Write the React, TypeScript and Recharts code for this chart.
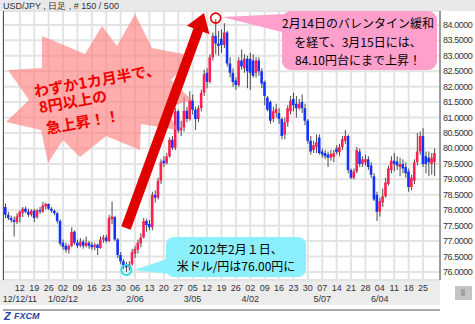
import { ComposedChart, Bar, Cell, XAxis, YAxis, CartesianGrid, ReferenceDot } from 'recharts';

// week starts (Mondays) shown on the axis, 5 daily bars per week
const weeks = [
  '12/05', '12/12', '12/19', '12/26', '01/02', '01/09', '01/16', '01/23', '01/30', '02/06',
  '02/13', '02/20', '02/27', '03/05', '03/12', '03/19', '03/26', '04/02', '04/09', '04/16',
  '04/23', '04/30', '05/07', '05/14', '05/21', '05/28', '06/04', '06/11', '06/18', '06/25'
];

const monthLabels: Record<string, string> = {
  '12/12': '12/12/11',
  '01/02': '1/02/12',
  '02/06': '2/06',
  '03/05': '3/05',
  '04/02': '4/02',
  '05/07': '5/07',
  '06/04': '6/04'
};

const yTicks = [76, 76.5, 77, 77.5, 78, 78.5, 79, 79.5, 80, 80.5, 81, 81.5, 82, 82.5, 83, 83.5, 84];

// USD/JPY daily, 2011/12/05 - 2012/06/29
const opens = [
  78.10, 77.85, 77.75, 77.68, 77.62, 77.78, 77.92, 78.05, 77.95, 77.85,
  77.98, 77.78, 78.00, 77.95, 78.12, 78.20, 78.05, 77.98, 77.90, 77.65,
  76.95, 76.85, 76.72, 76.85, 77.30, 76.95, 76.85, 76.98, 76.85, 76.95,
  76.88, 76.80, 76.88, 76.78, 77.05, 77.12, 77.00, 77.70, 77.78, 77.05,
  76.55, 76.35, 76.22, 76.15, 76.25, 76.60, 76.72, 76.92, 77.12, 77.65,
  77.55, 77.45, 78.50, 78.40, 78.95, 79.60, 79.52, 79.75, 80.28, 80.02,
  81.20, 80.58, 80.68, 81.22, 80.95, 81.55, 81.25, 80.95, 81.30, 81.80,
  82.45, 82.15, 82.95, 83.65, 83.40, 83.55, 83.35, 83.75, 82.75, 82.45,
  82.20, 82.05, 82.85, 82.60, 82.90, 82.90, 82.85, 82.45, 82.85, 82.50,
  82.15, 81.65, 81.50, 80.95, 81.15, 81.15, 80.95, 80.45, 80.85, 81.20,
  81.60, 81.45, 81.30, 81.50, 81.30, 80.90, 80.25, 79.95, 80.05, 80.35,
  79.90, 79.85, 79.80, 79.70, 79.72, 80.00, 79.88, 80.05, 80.25, 80.40,
  79.30, 79.05, 79.25, 79.90, 79.50, 79.55, 79.65, 79.45, 79.10, 78.50,
  77.95, 78.25, 78.45, 78.85, 79.30, 79.60, 79.58, 79.40, 79.50, 79.40,
  79.25, 78.75, 78.95, 79.55, 79.90, 80.40, 79.75, 79.70, 79.50, 79.55
];
const highs = [
  78.22, 77.95, 77.82, 77.80, 77.90, 78.00, 78.10, 78.12, 78.05, 78.02,
  78.05, 78.05, 78.10, 78.27, 78.25, 78.22, 78.10, 78.02, 77.95, 77.70,
  77.05, 76.95, 76.90, 77.45, 77.35, 77.05, 77.10, 77.05, 77.15, 77.00,
  76.98, 76.95, 76.92, 77.15, 77.20, 77.20, 77.85, 78.28, 77.82, 77.10,
  76.65, 76.42, 76.32, 76.35, 76.75, 76.85, 77.05, 77.25, 77.75, 77.72,
  77.68, 78.60, 78.65, 79.05, 79.65, 79.75, 79.85, 80.35, 80.40, 81.30,
  81.25, 80.90, 81.67, 81.35, 81.85, 81.75, 81.35, 81.40, 81.90, 82.55,
  82.60, 83.05, 83.75, 84.18, 83.80, 83.85, 84.05, 83.80, 82.95, 82.60,
  82.30, 82.95, 83.20, 83.05, 83.00, 83.10, 83.05, 82.95, 82.95, 82.60,
  82.20, 81.70, 81.55, 81.35, 81.45, 81.30, 81.00, 81.00, 81.40, 81.70,
  81.80, 81.70, 81.60, 81.75, 81.45, 80.95, 80.40, 80.25, 80.45, 80.45,
  80.00, 79.95, 79.90, 79.95, 79.95, 80.10, 80.15, 80.40, 80.60, 80.45,
  79.35, 79.35, 80.05, 80.00, 79.75, 79.80, 79.75, 79.55, 79.20, 78.60,
  78.40, 78.70, 79.05, 79.45, 79.75, 79.85, 79.75, 79.70, 79.65, 79.55,
  79.35, 79.15, 79.65, 80.50, 80.55, 80.65, 79.90, 79.90, 79.85, 80.00
];
const lows = [
  77.75, 77.68, 77.60, 77.15, 77.55, 77.60, 77.78, 77.90, 77.78, 77.80,
  77.62, 77.72, 77.88, 77.92, 78.02, 78.00, 77.92, 77.84, 77.58, 76.85,
  76.72, 76.62, 76.60, 76.80, 76.88, 76.78, 76.80, 76.75, 76.80, 76.75,
  76.72, 76.70, 76.55, 76.75, 76.95, 76.95, 76.98, 77.55, 77.00, 76.45,
  76.25, 76.10, 76.00, 76.05, 76.20, 76.45, 76.60, 76.80, 77.08, 77.30,
  77.35, 77.35, 78.25, 78.35, 78.85, 79.40, 79.48, 79.70, 79.95, 79.95,
  80.50, 80.40, 80.55, 80.85, 80.90, 81.10, 80.60, 80.85, 81.20, 81.70,
  81.95, 82.10, 82.85, 83.05, 83.00, 83.10, 83.25, 82.65, 82.30, 82.00,
  81.90, 82.00, 82.55, 82.45, 81.95, 81.90, 82.30, 82.30, 82.35, 81.95,
  81.40, 81.20, 80.80, 80.85, 81.00, 80.80, 80.30, 80.30, 80.70, 81.10,
  81.20, 81.00, 81.25, 81.15, 80.75, 80.15, 79.80, 79.85, 79.85, 79.80,
  79.70, 79.65, 79.40, 79.60, 79.55, 79.80, 79.75, 79.95, 80.15, 79.20,
  79.00, 79.00, 79.20, 79.40, 79.40, 79.45, 79.30, 79.05, 78.30, 77.65,
  77.80, 78.10, 78.40, 78.80, 79.20, 79.25, 79.30, 79.10, 79.20, 79.05,
  78.60, 78.65, 78.85, 79.45, 79.80, 79.40, 79.20, 79.10, 79.15, 79.10
];
const closes = [
  77.85, 77.75, 77.68, 77.62, 77.80, 77.95, 78.05, 77.95, 77.85, 77.98,
  77.75, 78.00, 77.95, 78.15, 78.20, 78.05, 77.98, 77.90, 77.65, 76.92,
  76.82, 76.72, 76.85, 77.30, 76.95, 76.85, 76.98, 76.85, 76.95, 76.85,
  76.80, 76.88, 76.78, 77.05, 77.12, 77.00, 77.75, 77.80, 77.05, 76.55,
  76.35, 76.20, 76.15, 76.25, 76.65, 76.75, 76.95, 77.12, 77.65, 77.52,
  77.45, 78.50, 78.40, 78.95, 79.55, 79.52, 79.75, 80.28, 80.02, 81.20,
  80.58, 80.68, 81.22, 80.95, 81.55, 81.25, 80.95, 81.30, 81.80, 82.40,
  82.15, 82.95, 83.65, 83.40, 83.32, 83.35, 83.75, 82.75, 82.45, 82.15,
  82.05, 82.85, 82.65, 82.90, 82.50, 82.45, 82.35, 82.85, 82.50, 82.10,
  81.70, 81.25, 80.90, 81.20, 81.28, 80.95, 80.40, 80.85, 81.30, 81.55,
  81.40, 81.30, 81.45, 81.30, 80.90, 80.25, 79.90, 80.10, 80.20, 79.85,
  79.80, 79.75, 79.70, 79.82, 79.85, 79.88, 80.05, 80.30, 80.40, 79.30,
  79.05, 79.25, 79.95, 79.50, 79.65, 79.65, 79.40, 79.15, 78.35, 77.95,
  78.30, 78.45, 78.90, 79.35, 79.60, 79.50, 79.45, 79.50, 79.35, 79.20,
  78.75, 79.05, 79.55, 79.90, 80.40, 79.50, 79.50, 79.55, 79.70, 79.85
];

const data = opens.map((o, i) => ({ i, o, h: highs[i], l: lows[i], c: closes[i] }));
const weekTicks = weeks.map((_, k) => k * 5).filter((v) => v > 0);

const UP = '#ff1f50';
const DOWN = '#1233ff';
const AXIS_FONT = '"Liberation Sans", Arial, sans-serif';
const JP_FONT = '"Noto Sans CJK JP", "Noto Sans", sans-serif';
const PLOT_BOTTOM = 280;

const XTick = ({ x, payload }: any) => {
  const w = weeks[payload.value / 5];
  const month = monthLabels[w];
  return (
    <g fontFamily={AXIS_FONT} fontSize={9} fill="#333">
      <text x={x} y={PLOT_BOTTOM + 11} textAnchor="middle">{w.slice(3)}</text>
      {month && <text x={x} y={PLOT_BOTTOM + 22} textAnchor="middle">{month}</text>}
    </g>
  );
};

const YTick = ({ x, y, payload }: any) => (
  <text x={x} y={y + 3} fontFamily={AXIS_FONT} fontSize={9} letterSpacing={-0.45} fill="#333">
    {Number(payload.value).toFixed(4)}
  </text>
);

// starburst outline behind the red comment
const burst =
  '135,14 152,48 194,56 171,80 192,100 165,108 178,130 141,124 140,150 106,136 80,157 63,140 48,163 41,130 6,122 29,100 8,70 42,68 42,36 85,54 102,26 117,46';

const Overlay = () => (
  <svg width={475} height={324} style={{ position: 'absolute', left: 0, top: 0, pointerEvents: 'none' }}>
    <text x={3} y={9} fontFamily={AXIS_FONT} fontSize={9} fill="#333">USD/JPY , 日足 , # 150 / 500</text>
    <line x1={3.5} y1={11} x2={3.5} y2={280} stroke="#555" />

    <polygon points={burst} fill="#ff7a7a" fillOpacity={0.62} />
    <g fontFamily={JP_FONT} fontSize={15} fontWeight={700} fill="#f00000">
      <text x={35} y={97} transform="rotate(-10 35 97)">わずか1カ月半で、</text>
      <text x={40} y={113} transform="rotate(-10 40 113)">8円以上の</text>
      <text x={47} y={134} transform="rotate(-10 47 134)">急上昇！！</text>
    </g>

    {/* arrow */}
    <polygon points="121.3,226.3 130.7,229.7 202.9,31.7 209.5,34.2 204,13 186.9,25.8 193.5,28.3" fill="#e00000" />

    {/* pink callout */}
    <polygon points="222,17 286,14 286,33" fill="#ffa0cc" />
    <rect x={282} y={11} width={155} height={59} rx={9} fill="#ffa0cc" />
    <g fontFamily={JP_FONT} fontSize={12} fill="#000" textAnchor="middle">
      <text x={358} y={28}>2月14日のバレンタイン緩和</text>
      <text x={358} y={46.5}>を経て、3月15日には、</text>
      <text x={358} y={65}>84.10円台にまで上昇！</text>
    </g>

    {/* cyan callout */}
    <polygon points="134,270 170,258 170,274" fill="#8cf0fc" />
    <rect x={166} y={237} width={140} height={40} rx={8} fill="#8cf0fc" />
    <g fontFamily={JP_FONT} fontSize={12} fill="#000" textAnchor="middle">
      <text x={236} y={253.5}>2012年2月１日、</text>
      <text x={236} y={271}>米ドル/円は76.00円に</text>
    </g>

    {/* logo + scroll button */}
    <text x={4} y={320} fontFamily={AXIS_FONT} fontSize={11} fontWeight={700} fontStyle="italic" fill="#2a45a8">Z</text>
    <text x={14} y={319} fontFamily={AXIS_FONT} fontSize={9} fontWeight={700} fontStyle="italic" fill="#2a45a8">FXCM</text>
    <rect x={455} y={286} width={17} height={14} fill="#c4c4c4" />
    <rect x={461} y={289} width={4} height={7} fill="#a2a2a2" />
  </svg>
);

export default function App() {
  return (
    <div style={{ position: 'absolute', left: 0, top: 0, width: 475, height: 324, background: '#fff', overflow: 'hidden' }}>
      <svg width={475} height={324} style={{ position: 'absolute', left: 0, top: 0 }}>
        <rect x={0} y={0} width={475} height={11} fill="#e9e9e9" />
        <rect x={0} y={280} width={440} height={25} fill="#ececec" />
      </svg>
      <div style={{ position: 'absolute', left: 0, top: 0 }}>
        <ComposedChart width={475} height={324} data={data} margin={{ top: 11, right: 0, left: 3, bottom: 18 }}>
          <CartesianGrid xAxisId="x" yAxisId="p" stroke="#e3e3e3" strokeWidth={2} />
          <XAxis
            xAxisId="x"
            dataKey="i"
            type="category"
            ticks={weekTicks}
            interval={0}
            height={26}
            padding={{ left: 1, right: 4 }}
            tickLine={false}
            tickSize={0}
            tickMargin={0}
            axisLine={{ stroke: '#555' }}
            tick={<XTick />}
          />
          <XAxis xAxisId="w" dataKey="i" type="category" hide padding={{ left: 1, right: 4 }} />
          <YAxis
            yAxisId="p"
            orientation="right"
            width={35}
            domain={[75.74, 84.45]}
            allowDataOverflow
            ticks={yTicks}
            interval={0}
            tickLine={false}
            tickSize={0}
            tickMargin={3}
            axisLine={{ stroke: '#555' }}
            tick={<YTick />}
          />
          <Bar
            xAxisId="w"
            yAxisId="p"
            dataKey={(d: any) => [d.l, d.h]}
            barSize={1}
            fill="#4a4a4a"
            isAnimationActive={false}
          />
          <Bar
            xAxisId="x"
            yAxisId="p"
            dataKey={(d: any) => [Math.min(d.o, d.c), Math.max(d.o, d.c)]}
            barSize={3}
            isAnimationActive={false}
          >
            {data.map((d) => (
              <Cell key={d.i} fill={d.c >= d.o ? UP : DOWN} />
            ))}
          </Bar>
          <ReferenceDot xAxisId="x" yAxisId="p" x={73} y={84.22} r={5} fill="none" stroke="#e00000" strokeWidth={1.6} ifOverflow="visible" />
          <ReferenceDot xAxisId="x" yAxisId="p" x={42} y={76.06} r={5} fill="none" stroke="#20e0ea" strokeWidth={2} ifOverflow="visible" />
        </ComposedChart>
      </div>
      <Overlay />
    </div>
  );
}
